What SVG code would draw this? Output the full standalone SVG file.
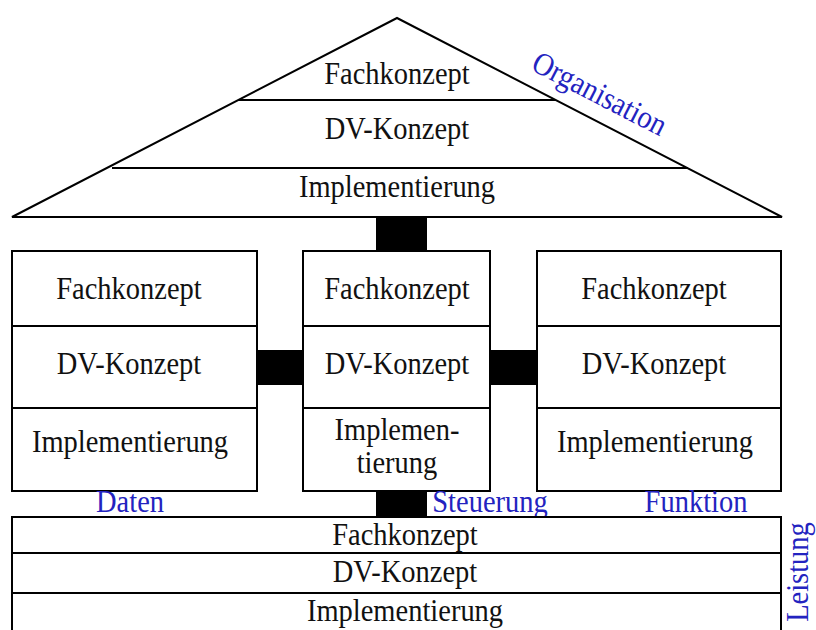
<svg xmlns="http://www.w3.org/2000/svg" width="816" height="630" viewBox="0 0 816 630">
  <style>
    .ln { fill: none; stroke: #000; stroke-width: 2; }
    .box { fill: #fff; stroke: #000; stroke-width: 2; }
    .bar { fill: #000; }
    text { font-family: "Liberation Serif", "Tinos", "DejaVu Serif", serif; font-size: 28.5px; text-anchor: middle; }
    .t { fill: #111; }
    .lab { fill: #2323c0; }
  </style>
  <rect width="816" height="630" fill="#fff"/>

  <!-- connectors (black bars between the views) -->
  <g id="connectors">
    <rect class="bar" x="376" y="217" width="51" height="34"/>
    <rect class="bar" x="257" y="350" width="46" height="35"/>
    <rect class="bar" x="490" y="350" width="47" height="35"/>
    <rect class="bar" x="376" y="491" width="51" height="26"/>
  </g>

  <!-- Organisation: roof -->
  <g id="organisation">
    <polygon class="ln" points="12,217 397,18 782,217"/>
    <line class="ln" x1="238" y1="100" x2="556" y2="100"/>
    <line class="ln" x1="112" y1="168" x2="688" y2="168"/>
    <text class="t" transform="translate(397,84) scale(1,1.12)">Fachkonzept</text>
    <text class="t" transform="translate(397,139) scale(1,1.12)">DV-Konzept</text>
    <text class="t" transform="translate(397,197) scale(1,1.12)">Implementierung</text>
    <text class="lab" transform="translate(595,103) rotate(27.3) scale(1,1.12)">Organisation</text>
  </g>

  <!-- Daten -->
  <g id="daten">
    <rect class="box" x="12" y="251" width="245" height="240"/>
    <line class="ln" x1="12" y1="326" x2="257" y2="326"/>
    <line class="ln" x1="12" y1="408" x2="257" y2="408"/>
    <text class="t" transform="translate(129,299) scale(1,1.12)">Fachkonzept</text>
    <text class="t" transform="translate(129,374) scale(1,1.12)">DV-Konzept</text>
    <text class="t" transform="translate(130,452) scale(1,1.12)">Implementierung</text>
    <text class="lab" transform="translate(130,512) scale(1,1.12)">Daten</text>
  </g>

  <!-- Steuerung -->
  <g id="steuerung">
    <rect class="box" x="303" y="251" width="187" height="240"/>
    <line class="ln" x1="303" y1="326" x2="490" y2="326"/>
    <line class="ln" x1="303" y1="408" x2="490" y2="408"/>
    <text class="t" transform="translate(397,299) scale(1,1.12)">Fachkonzept</text>
    <text class="t" transform="translate(397,374) scale(1,1.12)">DV-Konzept</text>
    <text class="t" transform="translate(397,440) scale(1,1.12)">Implemen-</text>
    <text class="t" transform="translate(397,473) scale(1,1.12)">tierung</text>
    <text class="lab" transform="translate(490,512) scale(1,1.12)">Steuerung</text>
  </g>

  <!-- Funktion -->
  <g id="funktion">
    <rect class="box" x="537" y="251" width="244" height="240"/>
    <line class="ln" x1="537" y1="326" x2="781" y2="326"/>
    <line class="ln" x1="537" y1="408" x2="781" y2="408"/>
    <text class="t" transform="translate(654,299) scale(1,1.12)">Fachkonzept</text>
    <text class="t" transform="translate(654,374) scale(1,1.12)">DV-Konzept</text>
    <text class="t" transform="translate(655,452) scale(1,1.12)">Implementierung</text>
    <text class="lab" transform="translate(696,512) scale(1,1.12)">Funktion</text>
  </g>

  <!-- Leistung: base -->
  <g id="leistung">
    <rect class="box" x="12" y="517" width="769" height="120"/>
    <line class="ln" x1="12" y1="553" x2="781" y2="553"/>
    <line class="ln" x1="12" y1="593" x2="781" y2="593"/>
    <text class="t" transform="translate(405,545) scale(1,1.12)">Fachkonzept</text>
    <text class="t" transform="translate(405,582) scale(1,1.12)">DV-Konzept</text>
    <text class="t" transform="translate(405,621) scale(1,1.12)">Implementierung</text>
    <text class="lab" transform="translate(808,572) rotate(-90) scale(1,1.12)">Leistung</text>
  </g>
</svg>
